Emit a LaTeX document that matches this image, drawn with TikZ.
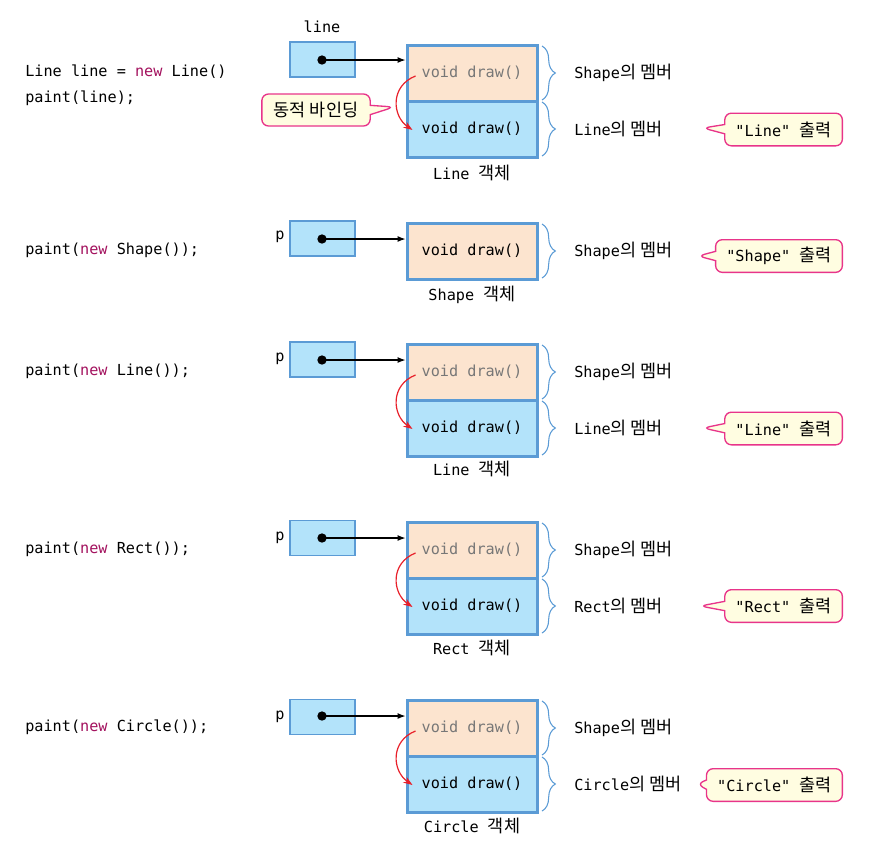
\documentclass[tikz,border=0pt]{standalone}
\usepackage{fontspec}
\setmainfont{DejaVu Sans Mono}[Ligatures=TeXOff]
\newfontfamily\kr{Noto Sans CJK KR}[Scale=1.15]
\usetikzlibrary{shapes.callouts,decorations.pathreplacing,arrows.meta,calc}
\definecolor{objline}{HTML}{5B9BD5}
\definecolor{reffill}{HTML}{B3E3FA}
\definecolor{supfill}{HTML}{FCE4CF}
\definecolor{subfill}{HTML}{B3E3FA}
\definecolor{oldtext}{HTML}{777777}
\definecolor{newword}{HTML}{A3125E}
\definecolor{notefill}{HTML}{FFFDE1}
\definecolor{noteline}{HTML}{E8348A}
\definecolor{bindred}{HTML}{E8202A}
\tikzset{
  txt/.style={inner sep=0.75pt, font=\fontsize{11.4}{14}\selectfont},
  refbox/.style={draw=objline, fill=reffill, line width=1pt, minimum width=48.75pt, minimum height=26.25pt},
  supbox/.style={txt, draw=objline, fill=supfill, line width=2.25pt, minimum width=97.5pt, minimum height=42pt},
  subbox/.style={txt, draw=objline, fill=subfill, line width=2.25pt, minimum width=97.5pt, minimum height=42pt},
  refdot/.style={circle, fill=black, inner sep=0pt, minimum size=7pt},
  refarrow/.style={-{Latex[length=6pt,width=4.5pt]}, line width=0.8pt},
  bindarrow/.style={-{Stealth[length=7pt,width=5pt]}, draw=bindred, line width=0.9pt},
  member/.style={decorate, decoration={brace, amplitude=10pt}, draw=objline, line width=0.8pt},
  note/.style={txt, rectangle callout, rounded corners=5pt, draw=noteline, fill=notefill, line width=1pt,
    callout pointer width=7pt, inner xsep=8pt, minimum height=24.5pt, anchor=east},
}
\begin{document}
\begin{tikzpicture}[x=0.75pt,y=0.75pt,yscale=-1,xscale=1]
    \path[use as bounding box] (0,0) rectangle (873,865);
    % Line line = new Line(); paint(line);
    \node[txt, anchor=west] (code1a) at (24,72) {Line line = {\color{newword}new} Line()};
    \node[txt, anchor=west] (code1b) at (24,98) {paint(line);};
    \node[txt] (name1) at (322,27) {line};
    \node[refbox] (ref1) at (322.5,59.5) {};
    \node[supbox, text=oldtext] (sup1) at (472,73) {void draw()};
    \node[subbox] (sub1) at (472,129) {void draw()};
    \node[txt] (obj1) at (472,173) {Line {\kr 객체}};
    \node[refdot] (dot1) at (322,60) {};
    \draw[refarrow] (dot1.center) -- (dot1 -| sup1.west);
    \draw[member] (542,46) -- (542,100);
    \draw[member] (542,102) -- (542,156);
    \node[txt, anchor=west] (mem1a) at (573,73) {Shape{\kr 의 멤버}};
    \node[txt, anchor=west] (mem1b) at (573,129) {Line{\kr 의 멤버}};
    \draw[bindarrow] ($(sup1.west)+(10,3)$) .. controls (390,86) and (392,116) .. ($(sub1.west)+(7,1)$);
    \node[note, anchor=center, callout absolute pointer={(394,107)}, minimum height=24pt, inner xsep=9pt] (bind1) at (316,110) {\kr 동적 바인딩};
    \node[note, callout absolute pointer={(703,128)}] (out1) at (843,129.5) {"Line" {\kr 출력}};
    % paint(new Shape());
    \node[txt, anchor=west] (code2) at (24,250) {paint({\color{newword}new} Shape());};
    \node[txt] (name2) at (280,237) {p};
    \node[refbox] (ref2) at (322.5,238.5) {};
    \node[supbox] (sup2) at (472,251) {void draw()};
    \node[txt] (obj2) at (472,295) {Shape {\kr 객체}};
    \node[refdot] (dot2) at (322,239) {};
    \draw[refarrow] (dot2.center) -- (dot2 -| sup2.west);
    \draw[member] (542,224) -- (542,278);
    \node[txt, anchor=west] (mem2a) at (573,251) {Shape{\kr 의 멤버}};
    \node[note, callout absolute pointer={(698,256)}] (out2) at (843,256) {"Shape" {\kr 출력}};
    % paint(new Line());
    \node[txt, anchor=west] (code3) at (24,371) {paint({\color{newword}new} Line());};
    \node[txt] (name3) at (280,359) {p};
    \node[refbox] (ref3) at (322.5,359.5) {};
    \node[supbox, text=oldtext] (sup3) at (472,372) {void draw()};
    \node[subbox] (sub3) at (472,428) {void draw()};
    \node[txt] (obj3) at (472,469) {Line {\kr 객체}};
    \node[refdot] (dot3) at (322,360) {};
    \draw[refarrow] (dot3.center) -- (dot3 -| sup3.west);
    \draw[member] (542,345) -- (542,399);
    \draw[member] (542,401) -- (542,455);
    \node[txt, anchor=west] (mem3a) at (573,372) {Shape{\kr 의 멤버}};
    \node[txt, anchor=west] (mem3b) at (573,428) {Line{\kr 의 멤버}};
    \draw[bindarrow] ($(sup3.west)+(10,3)$) .. controls (390,385) and (392,415) .. ($(sub3.west)+(7,1)$);
    \node[note, callout absolute pointer={(703,428)}] (out3) at (843,428.5) {"Line" {\kr 출력}};
    % paint(new Rect());
    \node[txt, anchor=west] (code4) at (24,549) {paint({\color{newword}new} Rect());};
    \node[txt] (name4) at (280,538) {p};
    \node[refbox] (ref4) at (322.5,538) {};
    \node[supbox, text=oldtext] (sup4) at (472,550) {void draw()};
    \node[subbox] (sub4) at (472,606) {void draw()};
    \node[txt] (obj4) at (472,648) {Rect {\kr 객체}};
    \node[refdot] (dot4) at (322,538) {};
    \draw[refarrow] (dot4.center) -- (dot4 -| sup4.west);
    \draw[member] (542,523) -- (542,577);
    \draw[member] (542,579) -- (542,633);
    \node[txt, anchor=west] (mem4a) at (573,550) {Shape{\kr 의 멤버}};
    \node[txt, anchor=west] (mem4b) at (573,606) {Rect{\kr 의 멤버}};
    \draw[bindarrow] ($(sup4.west)+(10,3)$) .. controls (390,563) and (392,593) .. ($(sub4.west)+(7,1)$);
    \node[note, callout absolute pointer={(700,606)}] (out4) at (843,606) {"Rect" {\kr 출력}};
    % paint(new Circle());
    \node[txt, anchor=west] (code5) at (24,727) {paint({\color{newword}new} Circle());};
    \node[txt] (name5) at (280,717) {p};
    \node[refbox] (ref5) at (322.5,717) {};
    \node[supbox, text=oldtext] (sup5) at (472,728) {void draw()};
    \node[subbox] (sub5) at (472,784) {void draw()};
    \node[txt] (obj5) at (472,826) {Circle {\kr 객체}};
    \node[refdot] (dot5) at (322,716) {};
    \draw[refarrow] (dot5.center) -- (dot5 -| sup5.west);
    \draw[member] (542,701) -- (542,755);
    \draw[member] (542,757) -- (542,811);
    \node[txt, anchor=west] (mem5a) at (573,728) {Shape{\kr 의 멤버}};
    \node[txt, anchor=west] (mem5b) at (573,784) {Circle{\kr 의 멤버}};
    \draw[bindarrow] ($(sup5.west)+(10,3)$) .. controls (390,741) and (392,771) .. ($(sub5.west)+(7,1)$);
    \node[note, callout absolute pointer={(697,784)}] (out5) at (843,785) {"Circle" {\kr 출력}};
\end{tikzpicture}
\end{document}
